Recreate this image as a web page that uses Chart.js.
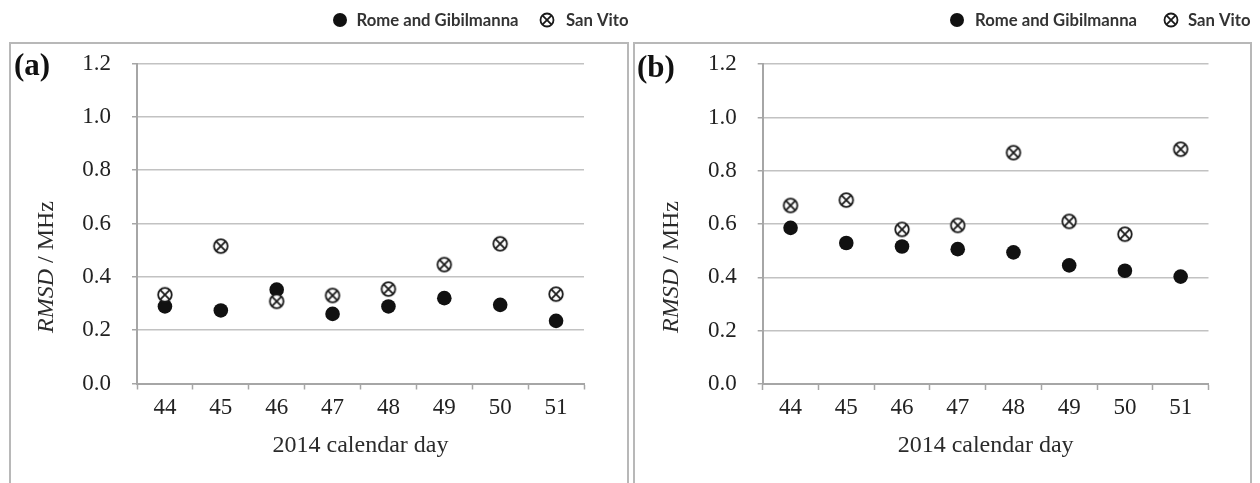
<!DOCTYPE html>
<html>
<head>
<meta charset="utf-8">
<title>RMSD by calendar day</title>
<script src="https://cdn.jsdelivr.net/npm/chart.js@4.4.0/dist/chart.umd.min.js"></script>
<style>
  html, body { margin: 0; padding: 0; background: #fff; overflow: hidden; }
  #wrap { position: relative; width: 1260px; height: 483px; }
  .panel { position: absolute; top: 0; height: 483px; }
  #pa { left: 0; width: 631px; }
  #pb { left: 631px; width: 629px; }
</style>
</head>
<body>
<div id="wrap">
  <div class="panel" id="pa"><canvas id="chartA"></canvas></div>
  <div class="panel" id="pb"><canvas id="chartB"></canvas></div>
</div>
<script>
// calendar days (2014) and y-axis ticks
const days = ['44', '45', '46', '47', '48', '49', '50', '51'];
const yTicks = [0, 0.2, 0.4, 0.6, 0.8, 1.0, 1.2];

// panel (a)
const romeA    = [0.289, 0.274, 0.352, 0.261, 0.289, 0.320, 0.295, 0.235];
const sanVitoA = [0.333, 0.515, 0.308, 0.330, 0.354, 0.446, 0.524, 0.335];

// panel (b)
const romeB    = [0.586, 0.529, 0.516, 0.506, 0.494, 0.445, 0.425, 0.403];
const sanVitoB = [0.670, 0.690, 0.580, 0.595, 0.868, 0.610, 0.562, 0.881];

const serif = "'Liberation Serif', 'Times New Roman', serif";
const gridGrey = '#c2c2c2';
const axisGrey = '#a6a6a6';

// circle with an X inside, used for San Vito
function drawCrossCircle(g, x, y, r, lw) {
  g.save();
  g.fillStyle = '#fff';
  g.strokeStyle = '#1a1a1a';
  g.lineWidth = lw;
  g.beginPath();
  g.arc(x, y, r, 0, Math.PI * 2);
  g.fill();
  g.stroke();
  const d = r * Math.SQRT1_2;
  g.beginPath();
  g.moveTo(x - d, y - d); g.lineTo(x + d, y + d);
  g.moveTo(x + d, y - d); g.lineTo(x - d, y + d);
  g.stroke();
  g.restore();
}

function crossCircleImage() {
  const c = document.createElement('canvas');
  c.width = c.height = 18;
  drawCrossCircle(c.getContext('2d'), 9, 9, 6.8, 1.8);
  return c;
}
const crossImg = crossCircleImage();

// frame, panel letter, mixed-style y title and legend
const panelDecor = {
  id: 'panelDecor',
  afterDraw(chart, args, o) {
    const ctx = chart.ctx;
    ctx.save();

    ctx.strokeStyle = '#b8b8b8';
    ctx.lineWidth = 2;
    ctx.strokeRect(o.frame[0], o.frame[1], o.frame[2] - o.frame[0], 520);

    ctx.fillStyle = '#111';
    ctx.textAlign = 'left';
    ctx.textBaseline = 'alphabetic';
    ctx.font = 'bold 31px ' + serif;
    ctx.fillText(o.letter, o.letterPos[0], o.letterPos[1]);

    // "RMSD / MHz" rotated, RMSD in italics
    ctx.save();
    ctx.translate(o.yTitle[0], o.yTitle[1]);
    ctx.rotate(-Math.PI / 2);
    ctx.fillStyle = '#2b2b2b';
    const italic = 'italic 24px ' + serif;
    const upright = '24px ' + serif;
    ctx.font = italic;
    const w1 = ctx.measureText('RMSD').width;
    ctx.font = upright;
    const w2 = ctx.measureText(' / MHz').width;
    let x0 = -(w1 + w2) / 2;
    ctx.font = italic;
    ctx.fillText('RMSD', x0, 0);
    ctx.font = upright;
    ctx.fillText(' / MHz', x0 + w1, 0);
    ctx.restore();

    // legend
    const ly = 20;
    ctx.fillStyle = '#111';
    ctx.beginPath();
    ctx.arc(o.legend[0], ly, 7, 0, Math.PI * 2);
    ctx.fill();
    drawCrossCircle(ctx, o.legend[2], ly, 6.5, 1.8);
    ctx.fillStyle = '#333';
    ctx.font = 'bold 16.7px Lato, "Open Sans", sans-serif';
    ctx.textBaseline = 'middle';
    ctx.fillText(chart.data.datasets[1].label, o.legend[1], ly + 1);
    ctx.fillText(chart.data.datasets[0].label, o.legend[3], ly + 1);

    ctx.restore();
  }
};

function makeChart(id, rome, sanVito, lay) {
  return new Chart(document.getElementById(id), {
    type: 'line',
    data: {
      labels: days,
      datasets: [
        {
          label: 'San Vito',
          data: sanVito,
          showLine: false,
          pointStyle: crossImg,
          pointRadius: 7,
          pointHoverRadius: 7
        },
        {
          label: 'Rome and Gibilmanna',
          data: rome,
          showLine: false,
          pointStyle: 'circle',
          pointRadius: 7.3,
          pointHoverRadius: 7.3,
          pointBackgroundColor: '#111',
          pointBorderWidth: 0
        }
      ]
    },
    options: {
      responsive: true,
      maintainAspectRatio: false,
      animation: false,
      layout: { padding: lay.padding },
      plugins: {
        legend: { display: false },
        tooltip: { enabled: false },
        panelDecor: lay.decor
      },
      scales: {
        x: {
          type: 'category',
          offset: true,
          grid: {
            offset: true,
            drawOnChartArea: false,
            drawTicks: true,
            tickLength: 6,
            tickColor: axisGrey,
            tickWidth: 1.5
          },
          border: { display: true, color: axisGrey, width: 2 },
          ticks: {
            padding: lay.xPad,
            color: '#222',
            font: { family: serif, size: 23 }
          },
          title: {
            display: true,
            text: '2014 calendar day',
            color: '#2b2b2b',
            font: { family: serif, size: 24 },
            padding: { top: 0, bottom: 0 }
          },
          afterFit: s => { s.height = lay.xHeight; }
        },
        y: {
          min: 0,
          max: 1.2,
          afterBuildTicks: s => { s.ticks = yTicks.map(v => ({ value: v })); },
          grid: {
            color: gridGrey,
            lineWidth: 1.5,
            drawTicks: true,
            tickLength: 5,
            tickColor: axisGrey
          },
          border: { display: true, color: axisGrey, width: 2 },
          ticks: {
            padding: 21,
            color: '#222',
            font: { family: serif, size: 23 },
            callback: v => Number(v).toFixed(1)
          },
          afterFit: s => { s.width = lay.yWidth; }
        }
      }
    },
    plugins: [panelDecor]
  });
}

makeChart('chartA', romeA, sanVitoA, {
  padding: { left: 0, right: 47, top: 63.5, bottom: 22.6 },
  yWidth: 137,
  xHeight: 76.9,
  xPad: 4.5,
  decor: {
    frame: [10, 43, 628],
    letter: '(a)',
    letterPos: [14, 75],
    yTitle: [53, 267],
    legend: [340, 356.5, 547, 566]
  }
});

makeChart('chartB', romeB, sanVitoB, {
  padding: { left: 0, right: 51.5, top: 64.2, bottom: 22.6 },
  yWidth: 131.7,
  xHeight: 76.4,
  xPad: 4,
  decor: {
    frame: [3, 43, 620],
    letter: '(b)',
    letterPos: [6, 77],
    yTitle: [47, 267],
    legend: [326, 344, 540, 557]
  }
});
</script>
</body>
</html>
